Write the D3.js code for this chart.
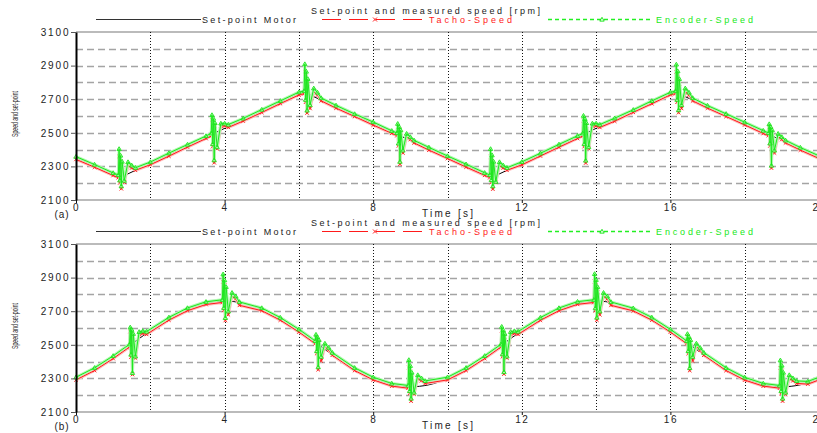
<!DOCTYPE html>
<html>
<head>
<meta charset="utf-8">
<script src="https://cdn.jsdelivr.net/npm/d3@7"></script>
<style>
	body { margin: 0; background: #fff; }
	svg text { font-family: "Liberation Sans", Arial, sans-serif; }
</style>
</head>
<body>
<svg id="chart" width="817" height="433"></svg>
<script>
// panel (a): triangular set-point
var setTimeA = [0, 1.2, 6.1, 11.2, 16.1, 20];
var setSpeedA = [2350, 2235, 2745, 2235, 2745, 2355];

var timeA = [0, 0.5, 1.0,
	1.14, 1.16, 1.18, 1.2, 1.22, 1.24, 1.3, 1.4, 1.5, 1.6,
	2.0, 2.5, 3.0, 3.5,
	3.64, 3.66, 3.68, 3.7, 3.72, 3.74, 3.8, 3.9, 4.0, 4.1,
	4.5, 5.0, 5.5, 6.0,
	6.14, 6.16, 6.18, 6.2, 6.22, 6.24, 6.3, 6.4, 6.5, 6.6,
	7.0, 7.5, 8.0, 8.5,
	8.64, 8.66, 8.68, 8.7, 8.72, 8.74, 8.8, 8.9, 9.0, 9.1,
	9.5, 10.0, 10.5, 11.0,
	11.14, 11.16, 11.18, 11.2, 11.22, 11.24, 11.3, 11.4, 11.5, 11.6,
	12.0, 12.5, 13.0, 13.5,
	13.64, 13.66, 13.68, 13.7, 13.72, 13.74, 13.8, 13.9, 14.0, 14.1,
	14.5, 15.0, 15.5, 16.0,
	16.14, 16.16, 16.18, 16.2, 16.22, 16.24, 16.3, 16.4, 16.5, 16.6,
	17.0, 17.5, 18.0, 18.5,
	18.64, 18.66, 18.68, 18.7, 18.72, 18.74, 18.8, 18.9, 19.0, 19.1,
	19.5, 20.0];

var tachoA = [2342, 2295, 2246,
	2233, 2359, 2202, 2330, 2167, 2299, 2205, 2306, 2291, 2277,
	2310, 2361, 2415, 2466,
	2481, 2576, 2418, 2560, 2322, 2539, 2405, 2541, 2541, 2532,
	2570, 2621, 2674, 2725,
	2733, 2864, 2682, 2835, 2618, 2791, 2645, 2745, 2725, 2690,
	2647, 2597, 2546, 2497,
	2483, 2534, 2422, 2520, 2313, 2501, 2380, 2480, 2460, 2440,
	2397, 2347, 2296, 2247,
	2233, 2357, 2204, 2332, 2165, 2299, 2205, 2306, 2291, 2277,
	2309, 2362, 2414, 2466,
	2481, 2574, 2418, 2558, 2320, 2539, 2405, 2541, 2541, 2532,
	2569, 2622, 2673, 2726,
	2733, 2862, 2682, 2833, 2620, 2791, 2645, 2745, 2725, 2690,
	2647, 2597, 2547, 2496,
	2483, 2532, 2422, 2520, 2290, 2501, 2380, 2480, 2460, 2440,
	2397, 2347];

var encoderA = [2358, 2311, 2261,
	2249, 2404, 2217, 2365, 2182, 2329, 2215, 2326, 2306, 2292,
	2326, 2379, 2430, 2481,
	2497, 2606, 2433, 2585, 2337, 2559, 2415, 2556, 2556, 2549,
	2586, 2638, 2690, 2742,
	2749, 2909, 2697, 2865, 2633, 2821, 2665, 2765, 2740, 2707,
	2663, 2612, 2564, 2512,
	2499, 2554, 2437, 2535, 2328, 2516, 2395, 2495, 2475, 2455,
	2413, 2362, 2313, 2262,
	2249, 2404, 2219, 2367, 2182, 2329, 2209, 2326, 2306, 2292,
	2327, 2378, 2431, 2482,
	2497, 2602, 2433, 2583, 2335, 2559, 2415, 2556, 2556, 2549,
	2587, 2637, 2690, 2741,
	2749, 2907, 2697, 2867, 2635, 2821, 2665, 2765, 2740, 2707,
	2662, 2613, 2563, 2513,
	2499, 2552, 2437, 2535, 2305, 2516, 2395, 2495, 2475, 2455,
	2412, 2363];

// panel (b): sinusoidal set-point
var setTimeB = [0, 0.5, 1.0, 1.5, 2.0, 2.5, 3.0, 3.5, 4.0, 4.5, 5.0, 5.5, 6.0, 6.5, 7.0, 7.5, 8.0, 8.5, 9.0, 9.5,
	10.0, 10.5, 11.0, 11.5, 12.0, 12.5, 13.0, 13.5, 14.0, 14.5, 15.0, 15.5, 16.0, 16.5, 17.0, 17.5, 18.0, 18.5, 19.0, 19.5, 20.0];
var setSpeedB = [2299, 2355, 2426, 2505, 2584, 2655, 2711, 2748, 2760, 2748, 2711, 2655, 2584, 2505, 2426, 2355, 2299, 2262, 2250, 2262,
	2299, 2355, 2426, 2505, 2584, 2655, 2711, 2748, 2760, 2748, 2711, 2655, 2584, 2505, 2426, 2355, 2299, 2262, 2250, 2262, 2299];

var timeB = [0, 0.5, 1.0,
	1.44, 1.46, 1.48, 1.5, 1.52, 1.54, 1.6, 1.7, 1.8, 1.9,
	2.5, 3.0, 3.5,
	3.94, 3.96, 3.98, 4.0, 4.02, 4.04, 4.1, 4.2, 4.3, 4.4,
	5.0, 5.5, 6.0,
	6.44, 6.46, 6.48, 6.5, 6.52, 6.54, 6.6, 6.7, 6.8, 6.9,
	7.5, 8.0, 8.5,
	8.94, 8.96, 8.98, 9.0, 9.02, 9.04, 9.1, 9.2, 9.3, 9.4,
	10.0, 10.5, 11.0,
	11.44, 11.46, 11.48, 11.5, 11.52, 11.54, 11.6, 11.7, 11.8, 11.9,
	12.5, 13.0, 13.5,
	13.94, 13.96, 13.98, 14.0, 14.02, 14.04, 14.1, 14.2, 14.3, 14.4,
	15.0, 15.5, 16.0,
	16.44, 16.46, 16.48, 16.5, 16.52, 16.54, 16.6, 16.7, 16.8, 16.9,
	17.5, 18.0, 18.5,
	18.94, 18.96, 18.98, 19.0, 19.02, 19.04, 19.1, 19.2, 19.3, 19.4,
	19.7, 20.0];

var tachoB = [2291, 2347, 2418,
	2487, 2579, 2427, 2565, 2323, 2546, 2421, 2562, 2567, 2562,
	2647, 2703, 2740,
	2752, 2875, 2705, 2855, 2645, 2815, 2679, 2790, 2774, 2735,
	2703, 2647, 2576,
	2507, 2546, 2448, 2530, 2352, 2514, 2404, 2493, 2468, 2438,
	2347, 2291, 2254,
	2242, 2365, 2210, 2345, 2165, 2305, 2206, 2300, 2286, 2270,
	2291, 2347, 2418,
	2487, 2583, 2429, 2563, 2326, 2546, 2421, 2562, 2567, 2562,
	2646, 2703, 2741,
	2752, 2877, 2703, 2857, 2647, 2815, 2679, 2790, 2774, 2735,
	2702, 2647, 2576,
	2507, 2550, 2448, 2532, 2347, 2514, 2404, 2493, 2468, 2438,
	2347, 2290, 2254,
	2242, 2363, 2210, 2347, 2165, 2305, 2206, 2300, 2286, 2270,
	2266, 2291];

var encoderB = [2307, 2363, 2434,
	2503, 2604, 2442, 2590, 2333, 2566, 2431, 2577, 2582, 2579,
	2663, 2719, 2756,
	2768, 2920, 2720, 2885, 2660, 2845, 2699, 2810, 2789, 2755,
	2719, 2662, 2592,
	2523, 2561, 2463, 2545, 2367, 2529, 2429, 2508, 2483, 2453,
	2363, 2307, 2270,
	2258, 2410, 2225, 2375, 2180, 2335, 2216, 2320, 2301, 2285,
	2307, 2363, 2434,
	2503, 2608, 2444, 2588, 2338, 2566, 2431, 2577, 2582, 2579,
	2662, 2719, 2757,
	2768, 2922, 2718, 2887, 2662, 2845, 2699, 2810, 2789, 2755,
	2718, 2663, 2592,
	2523, 2565, 2463, 2547, 2362, 2529, 2429, 2508, 2483, 2453,
	2363, 2306, 2270,
	2258, 2408, 2225, 2377, 2180, 2335, 2216, 2320, 2301, 2285,
	2282, 2307];

var xTicks = [0, 4, 8, 12, 16, 20];
var xGrid = [2, 4, 6, 8, 10, 12, 14, 16, 18, 20];
var yTicks = [2100, 2300, 2500, 2700, 2900, 3100];
var yGrid = [2200, 2300, 2400, 2500, 2600, 2700, 2800, 2900, 3000];

var chartTitle = "Set-point and measured speed [rpm]";
var legendNames = ["Set-point Motor", "Tacho-Speed", "Encoder-Speed"];
var xTitle = "Time [s]";
var yTitle = "Speed and set-point";
var panelTags = ["(a)", "(b)"];

(function() {

	var WIDTH = 817;
	var X_LEFT = 76, X_RIGHT = 819;
	var GRID_COLOR = "#a4a4a4";
	var TEXT_COLOR = "#222";
	var RED = "#ff1a1a", RED_SOFT = "#ffbcbc";
	var GREEN = "#1ee61e", GREEN_SOFT = "#b0f8b0";

	var svg = d3.select("#chart");
	var x = d3.scaleLinear().domain([0, 20]).range([X_LEFT, X_RIGHT]);

	function triangle() {
		return "M0,-2.2L2.2,1.6L-2.2,1.6Z";
	}

	function label(g, px, py, str, len, color) {
		return g.append("text").attr("x", px).attr("y", py)
			.attr("textLength", len).attr("lengthAdjust", "spacing")
			.style("font-size", "9px").style("fill", color || TEXT_COLOR)
			.text(str);
	}

	function drawLegend(top) {
		var g = svg.append("g");
		var rowY = top - 12.5;

		label(g, 311, top - 18, chartTitle, 229);

		// set-point
		g.append("line").attr("x1", 96).attr("x2", 201).attr("y1", rowY).attr("y2", rowY)
			.style("stroke", "#333").style("stroke-width", 1);
		label(g, 202, rowY + 3.3, legendNames[0], 94);

		// tacho
		g.append("line").attr("x1", 322).attr("x2", 428).attr("y1", rowY).attr("y2", rowY)
			.style("stroke", RED).style("stroke-width", 1).style("stroke-dasharray", "19,8");
		g.append("path").attr("transform", "translate(375," + rowY + ")")
			.attr("d", "M-2,-2L2,2M-2,2L2,-2").style("stroke", RED).style("fill", "none");
		label(g, 429, rowY + 3.3, legendNames[1], 83, RED);

		// encoder
		g.append("line").attr("x1", 548).attr("x2", 652).attr("y1", rowY).attr("y2", rowY)
			.style("stroke", "#22f022").style("stroke-width", 1.4).style("stroke-dasharray", "4,3");
		g.append("path").attr("transform", "translate(602," + rowY + ")")
			.attr("d", triangle()).style("stroke", GREEN).style("fill", "none");
		label(g, 656, rowY + 3.3, legendNames[2], 97, "#18e818");
	}

	function drawSeries(g, y, times, values, color, soft, marker) {
		var pts = d3.zip(times, values);
		var line = d3.line().x(function(d) { return x(d[0]); }).y(function(d) { return y(d[1]); });

		g.append("path").datum(pts).attr("d", line)
			.style("fill", "none").style("stroke", soft).style("stroke-width", 3)
			.style("stroke-linejoin", "round");
		g.append("path").datum(pts).attr("d", line)
			.style("fill", "none").style("stroke", color).style("stroke-width", 1);

		g.selectAll(null).data(pts).enter().append("path")
			.attr("transform", function(d) { return "translate(" + x(d[0]) + "," + y(d[1]) + ")"; })
			.attr("d", marker)
			.style("fill", "none").style("stroke", color).style("stroke-width", 0.9);
	}

	function drawPanel(top, bottom, tag, setT, setV, setCurve, mTime, tacho, encoder) {
		var y = d3.scaleLinear().domain([2100, 3100]).range([bottom, top]);
		var g = svg.append("g");

		drawLegend(top);

		// horizontal dashed grid
		g.selectAll(null).data(yGrid).enter().append("line")
			.attr("x1", X_LEFT).attr("x2", WIDTH)
			.attr("y1", function(d) { return Math.round(y(d)) + 0.5; })
			.attr("y2", function(d) { return Math.round(y(d)) + 0.5; })
			.style("stroke", GRID_COLOR).style("stroke-width", 1.3).style("stroke-dasharray", "7,4");

		// top border
		g.append("line").attr("x1", X_LEFT).attr("x2", WIDTH)
			.attr("y1", y(3100)).attr("y2", y(3100))
			.style("stroke", GRID_COLOR).style("stroke-width", 1.5);

		// vertical dotted grid
		g.selectAll(null).data(xGrid).enter().append("line")
			.attr("x1", function(d) { return Math.round(x(d)) + 0.5; })
			.attr("x2", function(d) { return Math.round(x(d)) + 0.5; })
			.attr("y1", top).attr("y2", bottom)
			.style("stroke", "#111").style("stroke-width", 1).style("stroke-dasharray", "1,2");

		// series
		var setLine = d3.line().curve(setCurve)
			.x(function(d) { return x(d[0]); }).y(function(d) { return y(d[1]); });
		g.append("path").datum(d3.zip(setT, setV)).attr("d", setLine)
			.style("fill", "none").style("stroke", "#000").style("stroke-width", 1);

		drawSeries(g, y, mTime, tacho, RED, RED_SOFT, "M-1.8,-1.8L1.8,1.8M-1.8,1.8L1.8,-1.8");
		drawSeries(g, y, mTime, encoder, GREEN, GREEN_SOFT, triangle());

		// axes
		var xAxis = d3.axisBottom(x).tickValues(xTicks).tickSize(3).tickSizeOuter(0).tickPadding(1);
		var xg = g.append("g").attr("transform", "translate(0," + bottom + ")").call(xAxis);
		xg.select(".domain").attr("d", "M" + X_LEFT + ",0H" + WIDTH)
			.style("stroke", GRID_COLOR).style("stroke-width", 1.5);
		xg.selectAll(".tick line").style("stroke", "#111");
		xg.selectAll(".tick text")
			.style("font-size", "10px").style("letter-spacing", "1.5px").style("fill", TEXT_COLOR)
			.style("font-family", '"Liberation Sans", Arial, sans-serif');

		var yAxis = d3.axisLeft(y).tickValues(yTicks).tickFormat(d3.format("d"))
			.tickSize(5).tickSizeOuter(0).tickPadding(2);
		var yg = g.append("g").attr("transform", "translate(" + X_LEFT + ",0)").call(yAxis);
		yg.select(".domain").style("stroke", "#000").style("stroke-width", 2);
		yg.selectAll(".tick line").style("stroke", "#555");
		yg.selectAll(".tick text")
			.attr("dx", "1.5")
			.style("font-size", "10px").style("letter-spacing", "1.9px").style("fill", TEXT_COLOR)
			.style("font-family", '"Liberation Sans", Arial, sans-serif');

		// titles
		g.append("text").attr("x", 422).attr("y", bottom + 17)
			.attr("textLength", 51).attr("lengthAdjust", "spacing")
			.style("font-size", "10px").style("fill", TEXT_COLOR)
			.text(xTitle);

		var mid = (top + bottom) / 2 - 2;
		g.append("text")
			.attr("transform", "translate(18," + mid + ") rotate(-90)")
			.attr("text-anchor", "middle")
			.attr("textLength", 46).attr("lengthAdjust", "spacingAndGlyphs")
			.style("font-size", "9px").style("fill", TEXT_COLOR)
			.text(yTitle);

		g.append("text").attr("x", 62).attr("y", bottom + 18)
			.attr("text-anchor", "middle")
			.style("font-size", "10px").style("letter-spacing", "1px").style("fill", TEXT_COLOR)
			.text(tag);
	}

	drawPanel(32, 200, panelTags[0], setTimeA, setSpeedA, d3.curveLinear, timeA, tachoA, encoderA);
	drawPanel(244, 412, panelTags[1], setTimeB, setSpeedB, d3.curveMonotoneX, timeB, tachoB, encoderB);

}());
</script>
</body>
</html>
